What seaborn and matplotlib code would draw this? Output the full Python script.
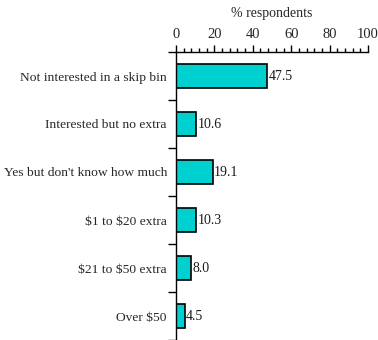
import matplotlib
matplotlib.use("Agg")
import matplotlib.pyplot as plt
from matplotlib.ticker import MultipleLocator, FixedLocator
import seaborn as sns
import pandas as pd

categories = [
    "Not interested in a skip bin",
    "Interested but no extra",
    "Yes but don't know how much",
    "$1 to $20 extra",
    "$21 to $50 extra",
    "Over $50",
]
values = [47.5, 10.6, 19.1, 10.3, 8.0, 4.5]
x_ticks = [0, 20, 40, 60, 80, 100]

sns.set_style("white")
plt.rcParams["font.family"] = ["Liberation Serif", "DejaVu Serif"]
plt.rcParams["font.size"] = 9.7
plt.rcParams["text.parse_math"] = False

df = pd.DataFrame({"category": categories, "value": values})

fig = plt.figure(figsize=(3.78, 3.40), dpi=100)
ax = fig.add_axes([176 / 378, 0.0, 192 / 378, 288 / 340])

sns.barplot(data=df, x="value", y="category", orient="h", color="#00D0D0",
            saturation=1, edgecolor="black", linewidth=1.2, width=0.48, ax=ax)

ax.set_xlim(0, 100)
ax.set_ylim(len(categories) - 0.5, -0.5)

# x axis on top with major/minor ticks
ax.xaxis.set_ticks_position("top")
ax.xaxis.set_label_position("top")
ax.set_xticks(x_ticks)
ax.xaxis.set_minor_locator(MultipleLocator(4))
ax.tick_params(axis="x", which="major", direction="out", length=5, width=1,
               color="black", pad=3, labelsize=10.5)
ax.tick_params(axis="x", which="minor", direction="out", length=3, width=1,
               color="black")
ax.set_xlabel("% respondents", labelpad=8, fontsize=10)

# y axis: labels at category centres, tick marks at category boundaries
ax.yaxis.set_minor_locator(FixedLocator([i - 0.5 for i in range(len(categories) + 1)]))
ax.tick_params(axis="y", which="major", length=0, pad=6.5, labelsize=9.7)
ax.tick_params(axis="y", which="minor", direction="out", length=6, width=1,
               color="black", left=True)
ax.set_ylabel("")

for s in ["right", "bottom"]:
    ax.spines[s].set_visible(False)
for s in ["left", "top"]:
    ax.spines[s].set_color("black")
    ax.spines[s].set_linewidth(1)

for i, v in enumerate(values):
    ax.text(v + 0.8, i, f"{v:.1f}", va="center", ha="left", fontsize=10,
            color="#1a1a1a", clip_on=False)

fig.savefig("out.png", dpi=100)
